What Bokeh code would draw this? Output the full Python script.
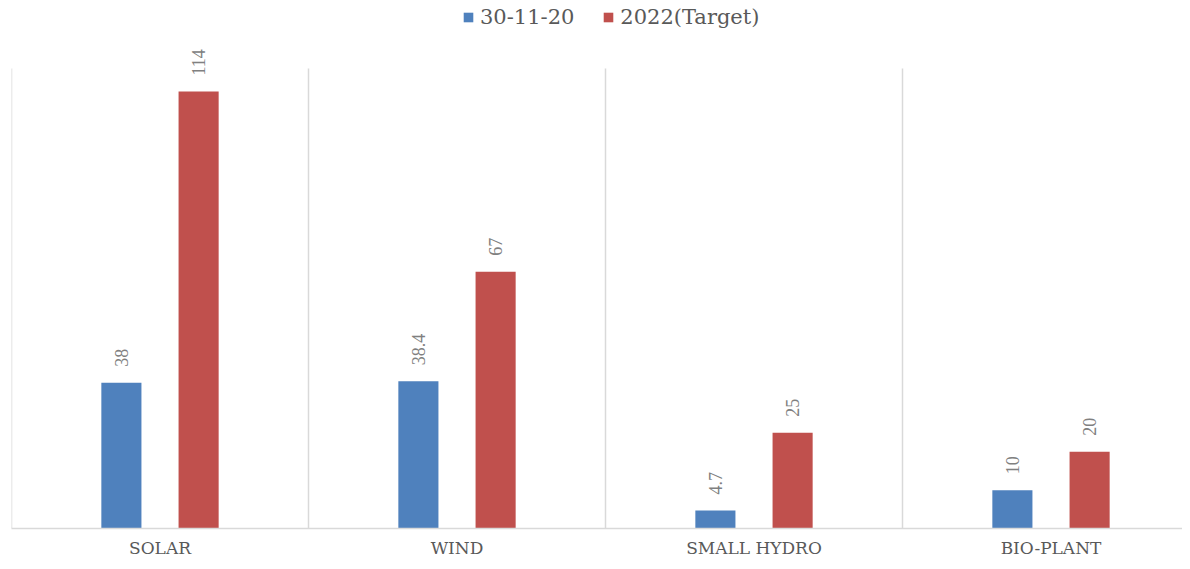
import math
from bokeh.plotting import figure
from bokeh.models import ColumnDataSource, LabelSet, Legend, LegendItem, FixedTicker, Range1d
from bokeh.transform import dodge
from bokeh.embed import file_html
from bokeh.resources import INLINE

categories = ["SOLAR", "WIND", "SMALL HYDRO", "BIO-PLANT"]
series_names = ["30-11-20", "2022(Target)"]
current = [38, 38.4, 4.7, 10]
target = [114, 67, 25, 20]
current_labels = ["38", "38.4", "4.7", "10"]
target_labels = ["114", "67", "25", "20"]

BLUE = "#4F81BD"
RED = "#C0504D"
FONT = "DejaVu Serif"

W, H = 1182, 561
LEFT, BOTTOM = 11, 33
PX_PER_UNIT = 460 / 120.0
y_top = (H - BOTTOM) / PX_PER_UNIT
x_end = (W - LEFT) / 297.0

centers = [i + 0.5 for i in range(len(categories))]
src = ColumnDataSource(dict(x=centers, cur=current, tgt=target,
                            cur_l=current_labels, tgt_l=target_labels))

p = figure(width=W, height=H, output_backend="svg", toolbar_location=None,
           x_range=Range1d(0, x_end), y_range=Range1d(0, y_top),
           min_border_left=LEFT, min_border_right=0, min_border_top=0, min_border_bottom=BOTTOM)
p.outline_line_color = None
p.background_fill_color = "white"
p.border_fill_color = "white"
p.xgrid.visible = False
p.ygrid.visible = False
p.yaxis.visible = False

# category separators (plot-area verticals)
seps = list(range(len(categories) + 1))
p.segment(x0=seps, x1=seps, y0=[0] * len(seps), y1=[120] * len(seps),
          line_color="#d9d9d9", line_width=1.5)

r1 = p.vbar(x=dodge("x", -0.13, range=p.x_range), top="cur", width=0.135, source=src,
            fill_color=BLUE, line_color=None)
r2 = p.vbar(x=dodge("x", 0.13, range=p.x_range), top="tgt", width=0.135, source=src,
            fill_color=RED, line_color=None)

for col, lab, off in (("cur", "cur_l", -0.13), ("tgt", "tgt_l", 0.13)):
    ls = LabelSet(x=dodge("x", off, range=p.x_range), y=col, text=lab, source=src,
                  angle=math.pi / 2, text_align="left", text_baseline="middle",
                  y_offset=16, text_font=FONT, text_font_size="18px", text_color="#808080")
    p.add_layout(ls)

p.xaxis.ticker = FixedTicker(ticks=centers)
p.xaxis.major_label_overrides = {c: n for c, n in zip(centers, categories)}
p.xaxis.major_tick_line_color = None
p.xaxis.minor_tick_line_color = None
p.xaxis.major_tick_out = 0
p.xaxis.minor_tick_out = 0
p.xaxis.major_tick_in = 0
p.xaxis.axis_line_color = "#d9d9d9"
p.xaxis.axis_line_width = 1.5
p.xaxis.major_label_text_font = FONT
p.xaxis.major_label_text_font_size = "17px"
p.xaxis.major_label_text_color = "#595959"
p.xaxis.major_label_standoff = 9

legend = Legend(items=[LegendItem(label=series_names[0], renderers=[r1]),
                       LegendItem(label=series_names[1], renderers=[r2])],
                orientation="horizontal", location=(451, 499),
                label_text_font=FONT, label_text_font_size="21px", label_text_color="#595959",
                glyph_width=12, glyph_height=12, spacing=28, label_standoff=6,
                border_line_color=None, background_fill_alpha=0, padding=0, margin=0)
p.add_layout(legend, "center")

open("out.html", "w").write(file_html(p, INLINE))
